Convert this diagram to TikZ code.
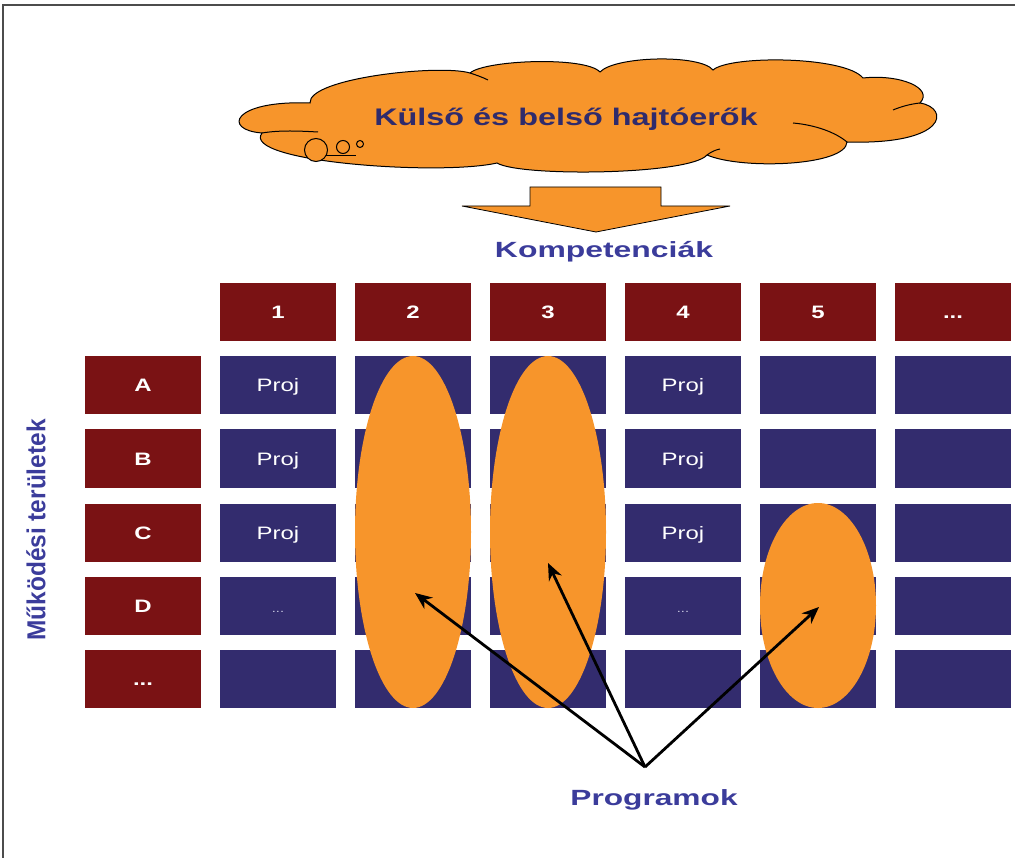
\documentclass[tikz,border=0pt]{standalone}
\usepackage{fontspec}
\usepackage{graphicx}
\setmainfont{Liberation Sans}
\usetikzlibrary{shapes.geometric,arrows.meta}
\definecolor{navy}{HTML}{332C6E}
\definecolor{dred}{HTML}{7A1214}
\definecolor{orng}{HTML}{F7952B}
\definecolor{tblue}{HTML}{3B3C9B}
\definecolor{cloudtxt}{HTML}{2F2B6C}
\definecolor{dots}{HTML}{C8C8E0}
\newcommand\hstr[2][1.33]{\scalebox{#1}[1]{#2}}
\tikzset{
  cellbox/.style={minimum width=116pt, minimum height=58pt, inner sep=0pt, text=white, text height=13pt, text depth=0pt},
  navycell/.style={cellbox, fill=navy, font=\fontsize{18}{19}\selectfont},
  redcell/.style={cellbox, fill=dred, font=\bfseries\fontsize{18}{19}\selectfont},
  dotcell/.style={navycell, text=dots, font=\fontsize{11}{12}\selectfont},
  prog/.style={ellipse, fill=orng, inner sep=0pt, minimum width=116pt},
  pointer/.style={draw=black, line width=2.8pt, -{Stealth[length=17pt,width=14pt]}},
  outline/.style={draw=black, line width=1pt},
  bubble/.style={circle, outline, fill=orng, inner sep=0pt},
  title/.style={anchor=base, inner sep=0pt, text=tblue, font=\bfseries\fontsize{22}{24}\selectfont},
}
\begin{document}
\begin{tikzpicture}[x=1pt,y=-1pt]
\useasboundingbox (0,0) rectangle (1015,858);
% frame
\draw[draw=black!70, line width=1.2pt] (3,858) -- (3,5) -- (1015,5);

% cloud
\draw[outline, fill=orng]
  (310,103) .. controls (308,78) and (440,64) .. (470,73)
  .. controls (485,60) and (585,56) .. (600,72)
  .. controls (615,56) and (700,54) .. (713,70)
  .. controls (730,55) and (845,56) .. (863,78)
  .. controls (900,74) and (934,88) .. (920,103)
  .. controls (950,108) and (948,145) .. (847,142)
  .. controls (846,166) and (742,170) .. (707,155)
  .. controls (690,175) and (520,177) .. (497,163)
  .. controls (440,176) and (240,162) .. (262,133)
  .. controls (222,130) and (232,100) .. (310,103) -- cycle;
% interior strokes of the cloud
\draw[outline] (262,133) .. controls (280,130) and (300,131) .. (318,132);
\draw[outline] (470,73) .. controls (476,75) and (482,77) .. (488,80);
\draw[outline] (920,103) .. controls (910,104) and (900,107) .. (893,110);
\draw[outline] (847,142) .. controls (835,132) and (815,125) .. (793,123);
\draw[outline] (707,155) .. controls (711,152) and (715,150) .. (720,149);
\draw[outline] (310,156) -- (356,156);
\node[anchor=base, inner sep=0pt, font=\bfseries\fontsize{24}{28}\selectfont, text=cloudtxt] (drivers) at (566,126) {\hstr[1.35]{Külső és belső hajtóerők}};
\node[bubble, minimum size=23pt] (b1) at (316,150) {};
\node[bubble, minimum size=13pt] (b2) at (343,147) {};
\node[bubble, minimum size=7pt] (b3) at (360,144) {};

% block arrow
\draw[outline, line width=0.8pt, fill=orng]
  (530,187) -- (661,187) -- (661,206) -- (730,206) -- (596,232) -- (462,206) -- (530,206) -- cycle;
\node[title] (komp) at (604,258) {\hstr[1.45]{Kompetenciák}};

% vertical label
\node[rotate=90, font=\bfseries\fontsize{26}{28}\selectfont, text=tblue] (mukodesi) at (36,530) {\scalebox{0.94}[1]{Működési területek}};

% header row
\node[redcell] (h1) at (278,312.5) {\hstr{1}};
\node[redcell] (h2) at (413,312.5) {\hstr{2}};
\node[redcell] (h3) at (548,312.5) {\hstr{3}};
\node[redcell] (h4) at (683,312.5) {\hstr{4}};
\node[redcell] (h5) at (818,312.5) {\hstr{5}};
\node[redcell] (h6) at (953,312.5) {\hstr{...}};

% row labels
\node[redcell] (rA) at (143,385) {\hstr{A}};
\node[redcell] (rB) at (143,458.5) {\hstr{B}};
\node[redcell] (rC) at (143,532.5) {\hstr{C}};
\node[redcell] (rD) at (143,605.5) {\hstr{D}};
\node[redcell] (rE) at (143,679) {\hstr{...}};

% grid
\foreach \c/\x in {1/278,2/413,3/548,4/683,5/818,6/953}{
  \foreach \r/\y in {A/385,B/458.5,C/532.5,D/605.5,E/679}{
    \node[navycell] (c\r\c) at (\x,\y) {};
  }
}
\foreach \r/\y in {A/385,B/458.5,C/532.5}{
  \node[navycell] (p\r1) at (278,\y) {\hstr{Proj}};
  \node[navycell] (p\r4) at (683,\y) {\hstr{Proj}};
}
\node[dotcell] (pD1) at (278,605.5) {\hstr{...}};
\node[dotcell] (pD4) at (683,605.5) {\hstr{...}};

% programme ellipses
\node[prog, minimum height=352pt] (e2) at (413,532) {};
\node[prog, minimum height=352pt] (e3) at (548,532) {};
\node[prog, minimum height=205pt] (e5) at (818,605.5) {};

% pointers
\node[title] (programok) at (654,805) {\hstr[1.44]{Programok}};
\coordinate (hub) at (645,767);
\coordinate (t2) at (415,593);
\coordinate (t3) at (548,563);
\coordinate (t5) at (819,607);
\draw[pointer] (hub) -- (t2);
\draw[pointer] (hub) -- (t3);
\draw[pointer] (hub) -- (t5);
\end{tikzpicture}
\end{document}
